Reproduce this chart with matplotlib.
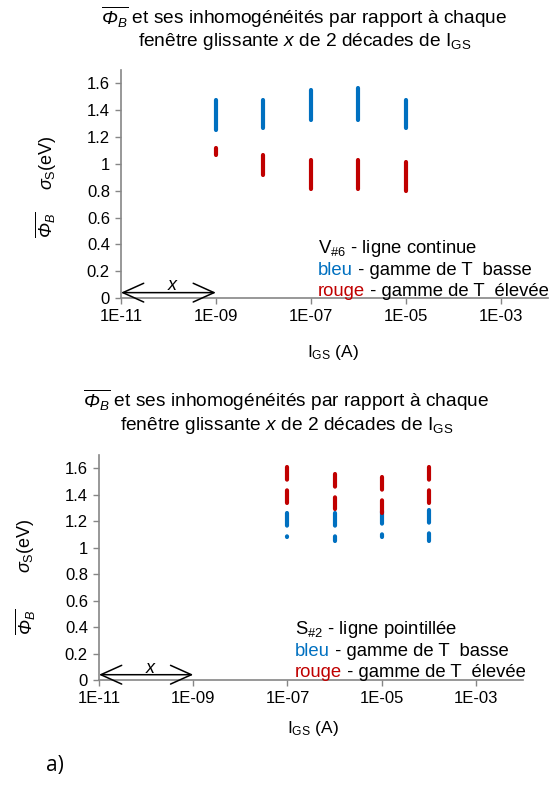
import matplotlib
matplotlib.use("Agg")
import matplotlib.pyplot as plt

plt.rcParams["font.family"] = ["Liberation Sans", "DejaVu Sans"]
plt.rcParams["mathtext.fontset"] = "custom"
plt.rcParams["mathtext.rm"] = "Liberation Sans"
plt.rcParams["mathtext.it"] = "Liberation Sans:italic"
plt.rcParams["mathtext.sf"] = "Liberation Sans:italic"
plt.rcParams["lines.scale_dashes"] = False

BLUE = "#0070C0"
RED = "#C00000"
GREY = "#868686"

TICKS = [1e-11, 1e-9, 1e-7, 1e-5, 1e-3]
TICK_LABELS = ["1E-11", "1E-09", "1E-07", "1E-05", "1E-03"]
YTICKS = [0, 0.2, 0.4, 0.6, 0.8, 1.0, 1.2, 1.4, 1.6]
YTICK_LABELS = ["0", "0.2", "0.4", "0.6", "0.8", "1", "1.2", "1.4", "1.6"]

# top chart (V#6, solid lines)
top_x = [1e-9, 1e-8, 1e-7, 1e-6, 1e-5]
top_blue_lo = [1.25, 1.265, 1.33, 1.33, 1.265]
top_blue_hi = [1.475, 1.475, 1.55, 1.565, 1.475]
top_red_lo = [1.065, 0.915, 0.815, 0.815, 0.795]
top_red_hi = [1.115, 1.065, 1.03, 1.03, 1.015]

# bottom chart (S#2, dashed lines)
bot_x = [1e-7, 1e-6, 1e-5, 1e-4]
bot_blue_lo = [1.077, 1.05, 1.077, 1.05]
bot_blue_hi = [1.26, 1.26, 1.28, 1.285]
bot_red_lo = [1.34, 1.29, 1.265, 1.34]
bot_red_hi = [1.61, 1.56, 1.535, 1.61]

# \mathsf is mapped to the italic face so the capital Phi gets slanted
PHI = r"$\overline{\mathsf{\Phi}_{\mathsf{B}}}$"
TITLE1 = PHI + " et ses inhomogénéités par rapport à chaque"
TITLE2 = r"fenêtre glissante $\mathit{x}$ de 2 décades de $\mathregular{I_{GS}}$"


def style_axes(ax):
    ax.set_xscale("log")
    ax.set_xlim(1e-11, 1e-2)
    ax.set_ylim(0, 1.7)
    ax.set_xticks(TICKS)
    ax.set_xticklabels(TICK_LABELS)
    ax.minorticks_off()
    ax.set_yticks(YTICKS)
    ax.set_yticklabels(YTICK_LABELS)
    for s in ["top", "right"]:
        ax.spines[s].set_visible(False)
    for s in ["left", "bottom"]:
        ax.spines[s].set_color(GREY)
        ax.spines[s].set_linewidth(1.2)
    ax.tick_params(direction="out", length=4, width=1, color=GREY,
                   labelsize=12, pad=4)


def legend_block(fig, ax, x, y, first, dy=0.027, fs=13.3):
    fig.text(x, y, first, fontsize=fs, va="baseline")
    t1 = fig.text(x, y - dy, "bleu", color=BLUE, fontsize=fs, va="baseline")
    ax.annotate(" - gamme de T  basse", xy=(1, 0), xycoords=t1,
                fontsize=fs, va="bottom", annotation_clip=False)
    t2 = fig.text(x, y - 2 * dy, "rouge", color=RED, fontsize=fs, va="baseline")
    ax.annotate(" - gamme de T  élevée", xy=(1, 0), xycoords=t2,
                fontsize=fs, va="bottom", annotation_clip=False)


def window_arrow(ax, ylab):
    ax.annotate("", xy=(1e-11, 0.04), xytext=(1e-9, 0.04),
                arrowprops=dict(arrowstyle="<->,head_length=1.0,head_width=0.45",
                                mutation_scale=15, lw=1.1, color="black",
                                shrinkA=0, shrinkB=0),
                annotation_clip=False)
    ax.text(1.2e-10, ylab, "x", style="italic", fontsize=13, ha="center",
            va="center")


fig = plt.figure(figsize=(5.49, 7.98), dpi=100)

# ---- top chart
ax1 = fig.add_axes([121 / 549, 500 / 798, 427 / 549, 228 / 798])
style_axes(ax1)
for x, lo, hi in zip(top_x, top_blue_lo, top_blue_hi):
    ax1.plot([x, x], [hi, lo], color=BLUE, lw=3, solid_capstyle="round")
for x, lo, hi in zip(top_x, top_red_lo, top_red_hi):
    ax1.plot([x, x], [hi, lo], color=RED, lw=3, solid_capstyle="round")
window_arrow(ax1, 0.09)

fig.text(304 / 549, 1 - 17 / 798, TITLE1, fontsize=13.8, ha="center", va="center")
fig.text(305 / 549, 1 - 42 / 798, TITLE2, fontsize=13.8, ha="center", va="center")
fig.text(333 / 549, 1 - 352 / 798, r"$\mathregular{I_{GS}}$ (A)", fontsize=12.5,
         ha="center", va="center")
fig.text(47 / 549, 1 - 163 / 798, r"$\sigma_{\mathregular{S}}$(eV)", fontsize=13,
         rotation=90, ha="center", va="center")
fig.text(45 / 549, 1 - 225 / 798, PHI, fontsize=13,
         rotation=90, ha="center", va="center")
legend_block(fig, ax1, 318 / 549, 1 - 253 / 798, r"V$_{\#6}$ - ligne continue")

# ---- bottom chart
ax2 = fig.add_axes([99 / 549, 118 / 798, 424 / 549, 225 / 798])
style_axes(ax2)
for x, lo, hi in zip(bot_x, bot_blue_lo, bot_blue_hi):
    ax2.plot([x, x], [hi, lo], color=BLUE, lw=3, dashes=(9.1, 7.7),
             dash_capstyle="round")
for x, lo, hi in zip(bot_x, bot_red_lo, bot_red_hi):
    ax2.plot([x, x], [hi, lo], color=RED, lw=3, dashes=(9.1, 7.7),
             dash_capstyle="round")
window_arrow(ax2, 0.09)

fig.text(286 / 549, 1 - 400 / 798, TITLE1, fontsize=13.8, ha="center", va="center")
fig.text(287 / 549, 1 - 425 / 798, TITLE2, fontsize=13.8, ha="center", va="center")
fig.text(313 / 549, 1 - 729 / 798, r"$\mathregular{I_{GS}}$ (A)", fontsize=12.5,
         ha="center", va="center")
fig.text(25 / 549, 1 - 546 / 798, r"$\sigma_{\mathregular{S}}$(eV)", fontsize=13,
         rotation=90, ha="center", va="center")
fig.text(25 / 549, 1 - 622 / 798, PHI, fontsize=13,
         rotation=90, ha="center", va="center")
legend_block(fig, ax2, 295 / 549, 1 - 634 / 798, r"S$_{\#2}$ - ligne pointillée")

fig.text(55 / 549, 1 - 766 / 798, "a)", fontsize=15, ha="center", va="center",
         family=["Open Sans", "DejaVu Sans"])

fig.savefig("out.png", dpi=100)
